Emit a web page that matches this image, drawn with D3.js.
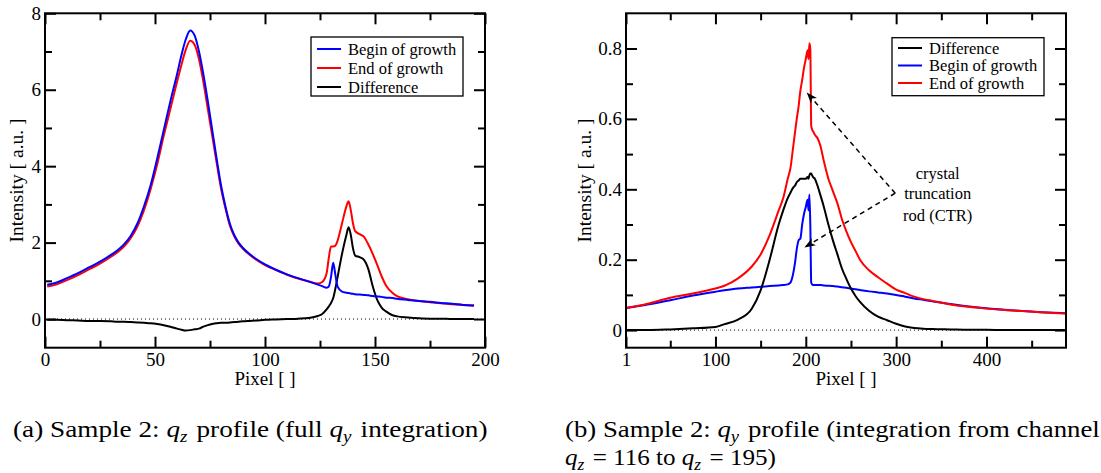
<!DOCTYPE html>
<html>
<head>
<meta charset="utf-8">
<title>qz / qy profiles</title>
<script src="https://cdnjs.cloudflare.com/ajax/libs/d3/7.8.5/d3.min.js"></script>
<style>
body { margin: 0; background: #fff; }
svg text { font-family: "Liberation Serif", "Times New Roman", serif; fill: #000; }
.frame { fill: none; stroke: #000; stroke-width: 2px; }
.tick line { stroke: #000; stroke-width: 2px; }
.zero { stroke: #000; stroke-width: 1px; stroke-dasharray: 1,3; }
.curve { fill: none; stroke-width: 2px; stroke-linejoin: round; }
.legend rect { fill: #fff; stroke: #000; stroke-width: 1.3px; }
.caption { font-size: 23px; }
</style>
</head>
<body>
<script>
// ---- panel (a): qz profile ----
var qzPixel = [1, 5, 10, 15, 20, 25, 30, 33, 36, 39, 42, 45, 48, 51, 54, 57, 60, 62, 64, 66, 68,
  70, 72, 74, 76, 78, 80, 82, 84, 86, 88, 90, 93, 96, 100, 105, 110, 115, 120, 124, 126,
  128, 129, 130, 131, 132, 133, 135, 137, 138, 139, 140, 141, 143, 145, 147, 149, 151, 153, 155, 158,
  160, 165, 170, 175, 180, 185, 190, 195];
var qzBegin = [0.90, 0.95, 1.07, 1.2, 1.35, 1.5, 1.68, 1.8, 1.96, 2.18, 2.5, 2.95, 3.5, 4.2, 4.95, 5.7, 6.4, 6.9, 7.32, 7.55, 7.42,
  7.0, 6.4, 5.7, 4.95, 4.2, 3.5, 2.95, 2.5, 2.2, 2.0, 1.86, 1.7, 1.57, 1.43, 1.29, 1.17, 1.07, 0.98, 0.9, 0.86,
  0.82, 0.85, 1.1, 1.47, 1.15, 0.85, 0.72, 0.69, 0.68, 0.67, 0.66, 0.65, 0.64, 0.63, 0.62, 0.6, 0.59, 0.58, 0.56, 0.55,
  0.53, 0.5, 0.47, 0.45, 0.42, 0.4, 0.37, 0.35];
var qzEnd = [0.85, 0.9, 1.02, 1.15, 1.3, 1.45, 1.63, 1.75, 1.9, 2.12, 2.42, 2.85, 3.4, 4.05, 4.8, 5.5, 6.2, 6.65, 7.05, 7.28, 7.18,
  6.8, 6.2, 5.5, 4.8, 4.1, 3.42, 2.9, 2.45, 2.17, 1.97, 1.84, 1.68, 1.55, 1.41, 1.28, 1.16, 1.06, 0.98, 0.93, 0.97,
  1.2, 1.6, 1.9, 1.9, 1.92, 2.05, 2.5, 2.95, 3.08, 2.85, 2.5, 2.3, 2.22, 2.15, 1.95, 1.7, 1.42, 1.12, 0.88, 0.68,
  0.6, 0.52, 0.47, 0.44, 0.41, 0.39, 0.37, 0.36];
var qzDiff = [-0.02, -0.02, -0.03, -0.04, -0.05, -0.05, -0.06, -0.07, -0.07, -0.08, -0.09, -0.1, -0.11, -0.13, -0.16, -0.2, -0.25, -0.28, -0.3, -0.29, -0.27,
  -0.25, -0.2, -0.16, -0.13, -0.11, -0.1, -0.1, -0.09, -0.08, -0.07, -0.06, -0.05, -0.04, -0.02, -0.01, 0.0, 0.01, 0.03, 0.08, 0.13,
  0.25, 0.33, 0.42, 0.55, 0.8, 1.1, 1.7, 2.2, 2.4, 2.2, 1.85, 1.66, 1.62, 1.55, 1.3, 0.85, 0.5, 0.3, 0.2, 0.1,
  0.07, 0.04, 0.02, 0.01, 0.01, 0.0, 0.0, 0.0];
var qzXTicks = [0, 50, 100, 150, 200], qzXMinor = [25, 75, 125, 175];
var qzYTicks = [0, 2, 4, 6, 8], qzYMinor = [1, 3, 5, 7];
var qzLegend = ["Begin of growth", "End of growth", "Difference"];

// ---- panel (b): qy profile ----
var qyPixel = [1, 25, 50, 75, 100, 110, 125, 140, 150, 160, 170, 175, 180, 183, 186, 188, 190, 192, 194, 196,
  198, 200, 202, 203, 204, 205, 206, 207, 208, 210, 213, 216, 220, 225, 230, 235, 240, 245, 250, 255,
  260, 270, 280, 290, 300, 310, 320, 330, 340, 360, 380, 400, 420, 440, 460, 487];
var qyDiff = [0.0, 0.0, 0.002, 0.005, 0.009, 0.017, 0.03, 0.06, 0.113, 0.2, 0.3, 0.34, 0.375, 0.39, 0.405, 0.41, 0.42, 0.425, 0.43, 0.43,
  0.43, 0.43, 0.435, 0.43, 0.44, 0.445, 0.445, 0.44, 0.435, 0.43, 0.41, 0.385, 0.35, 0.3, 0.255, 0.215, 0.175, 0.145, 0.118, 0.097,
  0.08, 0.055, 0.038, 0.028, 0.018, 0.01, 0.006, 0.004, 0.003, 0.002, 0.001, 0.001, 0.0, 0.0, 0.0, 0.0];
var qyBegin = [0.063, 0.073, 0.085, 0.098, 0.109, 0.113, 0.118, 0.121, 0.123, 0.125, 0.127, 0.128, 0.13, 0.135, 0.16, 0.19, 0.23, 0.255, 0.26, 0.3,
  0.33, 0.35, 0.37, 0.34, 0.385, 0.3, 0.135, 0.13, 0.128, 0.128, 0.128, 0.128, 0.127, 0.126, 0.125, 0.124, 0.122, 0.12, 0.118, 0.116,
  0.114, 0.11, 0.107, 0.104, 0.1, 0.095, 0.09, 0.086, 0.082, 0.074, 0.067, 0.062, 0.058, 0.054, 0.051, 0.048];
var qyEnd = [0.063, 0.075, 0.092, 0.104, 0.118, 0.126, 0.147, 0.18, 0.215, 0.27, 0.34, 0.375, 0.43, 0.46, 0.52, 0.56, 0.6, 0.635, 0.68, 0.71,
  0.745, 0.77, 0.795, 0.77, 0.815, 0.8, 0.58, 0.57, 0.565, 0.555, 0.545, 0.525, 0.48, 0.43, 0.395, 0.36, 0.315, 0.28, 0.25, 0.225,
  0.2, 0.17, 0.15, 0.132, 0.115, 0.105, 0.095, 0.088, 0.083, 0.073, 0.066, 0.061, 0.057, 0.054, 0.051, 0.047];
var qyXTicks = [1, 100, 200, 300, 400], qyXMinor = [50, 150, 250, 350, 450];
var qyYTicks = [0, 0.2, 0.4, 0.6, 0.8], qyYMinor = [0.1, 0.3, 0.5, 0.7];
var qyLegend = ["Difference", "Begin of growth", "End of growth"];
var ctrLabel = ["crystal", "truncation", "rod (CTR)"];

var width = 1101, height = 473;
var serif = "'Liberation Serif', 'Times New Roman', serif";
var svg = d3.select("body").append("svg")
  .attr("width", width)
  .attr("height", height);

svg.append("defs").append("marker")
  .attr("id", "arrow")
  .attr("viewBox", "0 -5 12 10")
  .attr("refX", 11).attr("refY", 0)
  .attr("markerWidth", 12).attr("markerHeight", 10)
  .attr("markerUnits", "userSpaceOnUse")
  .attr("orient", "auto")
  .append("path")
  .attr("d", "M0,-4L11,0L0,4L3,0Z")
  .attr("fill", "#000");

function panel(p) {
  var x = d3.scaleLinear().domain(p.xDomain).range([p.left, p.right]);
  var y = d3.scaleLinear().domain(p.yDomain).range([p.bottom, p.top]);
  var g = svg.append("g");
  var noLabel = function() { return ""; };

  // dotted zero line
  g.append("line").attr("class", "zero")
    .attr("x1", p.left).attr("x2", p.right)
    .attr("y1", y(0)).attr("y2", y(0));

  // ticks on all four sides, pointing inward
  function ax(gen, tx, ty, vals, size, fmt) {
    g.append("g")
      .attr("transform", "translate(" + tx + "," + ty + ")")
      .call(gen.tickValues(vals).tickSize(-size).tickFormat(fmt))
      .call(function(s) {
        s.select(".domain").remove();
        s.attr("font-family", serif).attr("font-size", 19);
        s.selectAll("text").style("font-family", serif).style("font-size", "19px");
      });
  }
  ax(d3.axisBottom(x).tickPadding(4.5), 0, p.bottom, p.xTicks, 11, p.xFmt);
  ax(d3.axisBottom(x), 0, p.bottom, p.xMinor, 7, noLabel);
  ax(d3.axisTop(x), 0, p.top, p.xTicks, 11, noLabel);
  ax(d3.axisTop(x), 0, p.top, p.xMinor, 7, noLabel);
  ax(d3.axisLeft(y).tickPadding(4), p.left, 0, p.yTicks, 11, p.yFmt);
  ax(d3.axisLeft(y), p.left, 0, p.yMinor, 7, noLabel);
  ax(d3.axisRight(y), p.right, 0, p.yTicks, 11, noLabel);
  ax(d3.axisRight(y), p.right, 0, p.yMinor, 7, noLabel);

  var line = d3.line()
    .curve(d3.curveMonotoneX)
    .x(function(d) { return x(d[0]); })
    .y(function(d) { return y(d[1]); });

  p.series.forEach(function(s) {
    g.append("path").attr("class", "curve")
      .attr("stroke", s.color)
      .attr("d", line(d3.zip(p.pixels, s.values)));
  });

  g.append("rect").attr("class", "frame")
    .attr("x", p.left).attr("y", p.top)
    .attr("width", p.right - p.left).attr("height", p.bottom - p.top);

  // axis titles
  g.append("text")
    .attr("x", (p.left + p.right) / 2).attr("y", p.bottom + 37)
    .attr("text-anchor", "middle").style("font-size", "19px")
    .text("Pixel [ ]");
  g.append("text")
    .attr("transform", "translate(" + p.yTitleX + "," + (p.top + p.bottom) / 2 + ") rotate(-90)")
    .attr("text-anchor", "middle").style("font-size", "19.5px")
    .text("Intensity [ a.u. ]");

  // legend
  var lg = g.append("g").attr("class", "legend");
  lg.append("rect")
    .attr("x", p.legend.x).attr("y", p.legend.y)
    .attr("width", p.legend.w).attr("height", p.legend.h);
  p.legend.items.forEach(function(it, i) {
    var ly = p.legend.rows[i];
    lg.append("line")
      .attr("x1", p.legend.x + 6).attr("x2", p.legend.x + 30)
      .attr("y1", ly).attr("y2", ly)
      .attr("stroke", it.color).attr("stroke-width", 2);
    lg.append("text")
      .attr("x", p.legend.x + 37).attr("y", ly + 5.5)
      .style("font-size", "16.5px")
      .text(it.label);
  });

  return { x: x, y: y, g: g };
}

var fmtInt = function(d) { return String(d); };
var fmtDec = function(d) { return d === 0 ? "0" : d3.format(".1f")(d); };

panel({
  left: 45, right: 485, top: 13.3, bottom: 347.7,
  xDomain: [0, 200], yDomain: [-0.75, 8],
  xTicks: qzXTicks, xMinor: qzXMinor, yTicks: qzYTicks, yMinor: qzYMinor,
  xFmt: fmtInt, yFmt: fmtInt, yTitleX: 23,
  pixels: qzPixel,
  series: [
    { values: qzDiff, color: "#000" },
    { values: qzEnd, color: "#ff0000" },
    { values: qzBegin, color: "#0000ff" }
  ],
  legend: {
    x: 311, y: 37, w: 152, h: 59, rows: [49, 68, 87],
    items: [
      { label: qzLegend[0], color: "#0000ff" },
      { label: qzLegend[1], color: "#ff0000" },
      { label: qzLegend[2], color: "#000" }
    ]
  }
});

var pb = panel({
  left: 626, right: 1066, top: 13.3, bottom: 347.7,
  xDomain: [1, 488], yDomain: [-0.05, 0.9],
  xTicks: qyXTicks, xMinor: qyXMinor, yTicks: qyYTicks, yMinor: qyYMinor,
  xFmt: fmtInt, yFmt: fmtDec, yTitleX: 591,
  pixels: qyPixel,
  series: [
    { values: qyBegin, color: "#0000ff" },
    { values: qyDiff, color: "#000" },
    { values: qyEnd, color: "#ff0000" }
  ],
  legend: {
    x: 892, y: 37.7, w: 152, h: 58, rows: [48, 65.5, 83],
    items: [
      { label: qyLegend[0], color: "#000" },
      { label: qyLegend[1], color: "#0000ff" },
      { label: qyLegend[2], color: "#ff0000" }
    ]
  }
});

// CTR annotation
var elbow = [299, 0.389];
[[201, 0.675], [198.5, 0.235]].forEach(function(tip) {
  pb.g.append("line")
    .attr("x1", pb.x(elbow[0])).attr("y1", pb.y(elbow[1]))
    .attr("x2", pb.x(tip[0])).attr("y2", pb.y(tip[1]))
    .attr("stroke", "#000").attr("stroke-width", 1.5)
    .attr("stroke-dasharray", "5,4")
    .attr("marker-end", "url(#arrow)");
});
[0.446, 0.389, 0.326].forEach(function(v, i) {
  pb.g.append("text")
    .attr("x", pb.x(346)).attr("y", pb.y(v) + 5.5)
    .attr("text-anchor", "middle").style("font-size", "16.5px")
    .text(ctrLabel[i]);
});

// captions (LaTeX-like, widened to the width of the original lines)
function q(t, sub) {
  t.append("tspan").style("font-style", "italic").text("q");
  t.append("tspan").style("font-style", "italic").style("font-size", "16px")
    .attr("dy", 5).text(sub);
  t.append("tspan").attr("dy", -5).text("\u200a");
}
function caption(x0, y0, w, build) {
  var t = svg.append("text").attr("class", "caption").attr("x", 0).attr("y", 0);
  build(t);
  var len = t.node().getComputedTextLength();
  t.attr("transform", "translate(" + x0 + "," + y0 + ") scale(" + (w / len).toFixed(3) + ",1)");
}
caption(13, 437, 475, function(t) {
  t.append("tspan").text("(a) Sample 2: ");
  q(t, "z");
  t.append("tspan").text(" profile (full ");
  q(t, "y");
  t.append("tspan").text(" integration)");
});
caption(565, 437, 535, function(t) {
  t.append("tspan").text("(b) Sample 2: ");
  q(t, "y");
  t.append("tspan").text(" profile (integration from channel");
});
caption(565, 465, 211, function(t) {
  q(t, "z");
  t.append("tspan").text(" = 116 to ");
  q(t, "z");
  t.append("tspan").text(" = 195)");
});
</script>
</body>
</html>
